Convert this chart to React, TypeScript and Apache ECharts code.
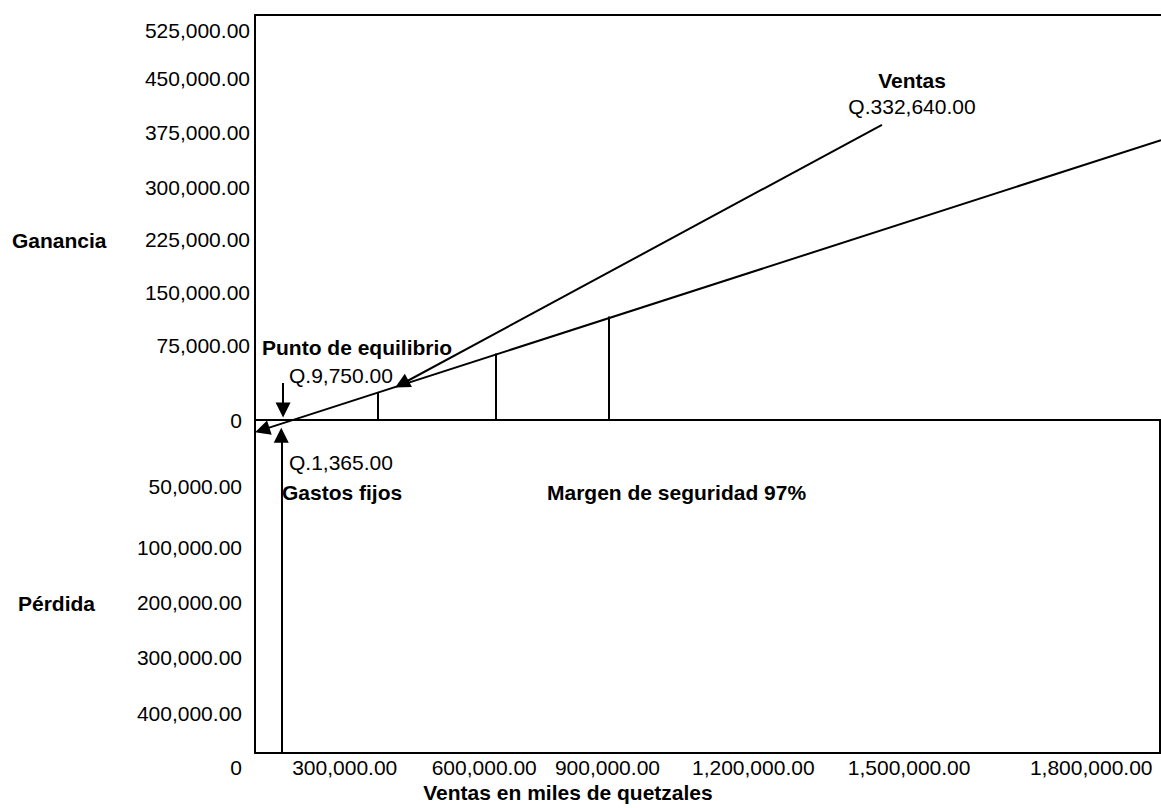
import React, { useEffect, useRef } from "react";
import * as echarts from "echarts";

const FONT = '"Liberation Sans", Arial, Helvetica, sans-serif';

// Schematic axis extents (the chart's scales are not linear, so positions are schematic units)
const X_MIN = 0;
const X_MAX = 1000;
const Y_MIN = -370;
const Y_MAX = 450;

// X axis tick positions and labels
const xTickPos = [99, 253, 389, 550, 722, 923];
const xTickText = ["300,000.00", "600,000.00", "900,000.00", "1,200,000.00", "1,500,000.00", "1,800,000.00"];

// Y axis tick positions and labels (upper = Ganancia, lower = Pérdida)
const yTickPos = [433, 379, 319, 258, 201, 142, 83, 0, -74, -142, -203, -264, -326];
const yTickText = [
  "525,000.00", "450,000.00", "375,000.00", "300,000.00", "225,000.00", "150,000.00", "75,000.00",
  "0",
  "50,000.00", "100,000.00", "200,000.00", "300,000.00", "400,000.00",
];

// Lines of the break-even diagram (start -> arrow end)
const costLine = [[1000, 311], [8, -11]];
const salesLine = [[692, 328], [162, 40]];
const breakEvenArrow = [[31, 41], [31, 11]];
const fixedCostArrow = [[29, -370], [29, -17]];
const zeroLine = [[0, 0], [1000, 0]];
const rightBorder = [[999, 0], [999, -370]];

// Safety-margin verticals
const marginX = [136, 266, 391];
const marginTop = [31, 74, 115];

export default function App() {
  const ref = useRef<HTMLDivElement>(null);

  useEffect(() => {
    const chart = echarts.init(ref.current as HTMLDivElement, null, { renderer: "svg" });
    const black = "#000";
    const axisLine = { show: true, onZero: false, lineStyle: { color: black, width: 2 } };

    const arrowSeries = (data: number[][][]) => ({
      type: "lines",
      coordinateSystem: "cartesian2d",
      clip: false,
      symbol: ["none", "triangle"],
      symbolSize: [12, 15],
      lineStyle: { color: black, width: 2, opacity: 1, curveness: 0 },
      itemStyle: { color: black },
      data: data.map((c) => ({ coords: c })),
      silent: true,
    });
    const plainSeries = (data: number[][][]) => ({
      type: "lines",
      coordinateSystem: "cartesian2d",
      clip: false,
      symbol: ["none", "none"],
      lineStyle: { color: black, width: 2, opacity: 1, curveness: 0 },
      data: data.map((c) => ({ coords: c })),
      silent: true,
    });

    const verticals = marginX.map((x, i) => [[x, 0], [x, marginTop[i]]]);

    const txt = (text: string, x: number, y: number, bold: boolean, align: string = "left") => ({
      type: "text",
      x,
      y,
      silent: true,
      style: {
        text,
        fill: black,
        fontSize: 21,
        fontWeight: bold ? "bold" : "normal",
        fontFamily: FONT,
        align,
        verticalAlign: "middle",
      },
    });

    chart.setOption({
      animation: false,
      backgroundColor: "#fff",
      grid: { left: 255, right: 0, top: 15, bottom: 55 },
      xAxis: [
        {
          type: "value",
          min: X_MIN,
          max: X_MAX,
          position: "bottom",
          axisLine,
          axisTick: { show: false },
          splitLine: { show: false },
          axisLabel: {
            customValues: xTickPos,
            formatter: (v: number) => {
              const i = xTickPos.indexOf(v);
              return i >= 0 ? xTickText[i] : "";
            },
            color: black,
            fontSize: 21,
            fontFamily: FONT,
            margin: 4,
          },
        },
        {
          type: "value",
          min: X_MIN,
          max: X_MAX,
          position: "top",
          axisLine,
          axisTick: { show: false },
          splitLine: { show: false },
          axisLabel: { show: false },
        },
      ],
      yAxis: {
        type: "value",
        min: Y_MIN,
        max: Y_MAX,
        axisLine,
        axisTick: { show: false },
        splitLine: { show: false },
        axisLabel: {
          customValues: yTickPos,
          formatter: (v: number) => {
            const i = yTickPos.indexOf(v);
            if (i < 0) return "";
            return v > 0 ? `{u|${yTickText[i]}}` : `{l|${yTickText[i]}}`;
          },
          margin: 5,
          rich: {
            u: { color: black, fontSize: 21, fontFamily: FONT },
            l: { color: black, fontSize: 21, fontFamily: FONT, padding: [0, 8, 0, 0] },
          },
        },
      },
      series: [
        plainSeries([zeroLine, rightBorder, ...verticals]),
        arrowSeries([costLine, salesLine, breakEvenArrow, fixedCostArrow]),
      ],
      graphic: [
        txt("Ganancia", 12, 240, true),
        txt("Pérdida", 18, 603, true),
        txt("Punto de equilibrio", 262, 347, true),
        txt("Q.9,750.00", 289, 375, false),
        txt("Q.1,365.00", 289, 462, false),
        txt("Gastos fijos", 282, 492, true),
        txt("Margen de seguridad 97%", 547, 492, true),
        txt("Ventas", 912, 80, true, "center"),
        txt("Q.332,640.00", 912, 106, false, "center"),
        txt("Ventas en miles de quetzales", 568, 792, true, "center"),
        txt("0", 242, 767, false, "right"),
      ],
    });
    return () => chart.dispose();
  }, []);

  return (
    <div
      ref={ref}
      style={{ position: "absolute", left: 0, top: 0, width: 1161, height: 808, background: "#fff" }}
    />
  );
}
